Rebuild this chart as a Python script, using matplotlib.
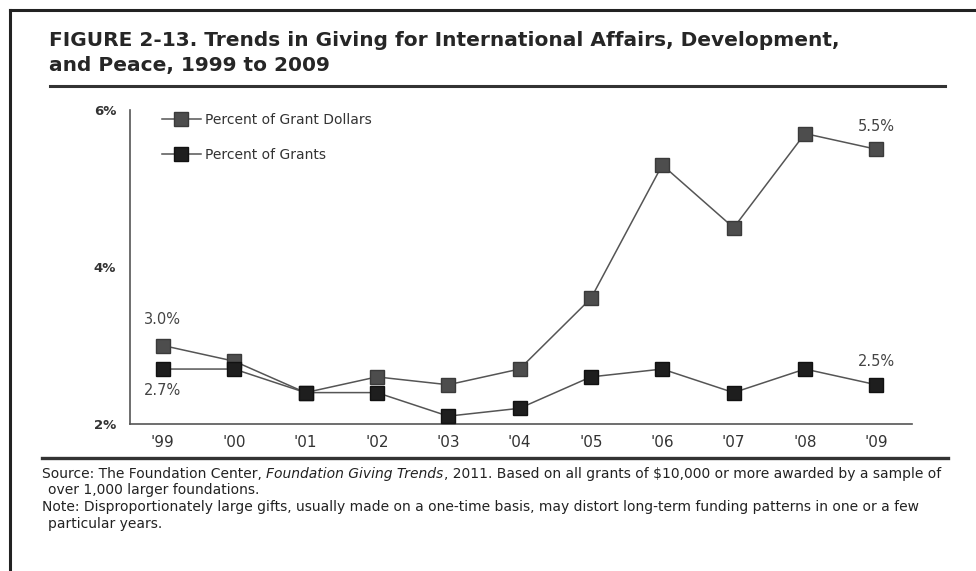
import matplotlib.pyplot as plt
from matplotlib.lines import Line2D

# Data
years = [1999, 2000, 2001, 2002, 2003, 2004, 2005, 2006, 2007, 2008, 2009]
year_labels = ["'99", "'00", "'01", "'02", "'03", "'04", "'05", "'06", "'07", "'08", "'09"]
grant_dollars = [3.0, 2.8, 2.4, 2.6, 2.5, 2.7, 3.6, 5.3, 4.5, 5.7, 5.5]
grants = [2.7, 2.7, 2.4, 2.4, 2.1, 2.2, 2.6, 2.7, 2.4, 2.7, 2.5]
y_ticks = [2, 4, 6]

font = ['DejaVu Sans']

fig = plt.figure(figsize=(9.76, 5.71), dpi=100)
W, H = 976, 571

def fx(px):
    return px / W

def fy(py):
    return 1 - py / H

# outer box (scanned page frame)
fig.add_artist(Line2D([fx(10), fx(10)], [fy(10), 0], color='#222', lw=2.2))
fig.add_artist(Line2D([fx(10), 1], [fy(10), fy(10)], color='#222', lw=2.2))

# title
fig.text(fx(49), fy(41), "FIGURE 2-13. Trends in Giving for International Affairs, Development,",
         fontsize=14.5, fontweight='bold', family=font, color='#262626', va='center')
fig.text(fx(49), fy(65), "and Peace, 1999 to 2009",
         fontsize=14.5, fontweight='bold', family=font, color='#262626', va='center')
fig.add_artist(Line2D([fx(50), fx(945)], [fy(86), fy(86)], color='#333', lw=2.2))

# plot area
ax = fig.add_axes([fx(130), fy(424), fx(912) - fx(130), fy(110) - fy(424)])
ax.plot(years, grant_dollars, color='#555', lw=1.1, marker='s', markersize=10,
        markerfacecolor='#4d4d4d', markeredgecolor='#3a3a3a', label='Percent of Grant Dollars', zorder=3)
ax.plot(years, grants, color='#555', lw=1.1, marker='s', markersize=10,
        markerfacecolor='#1e1e1e', markeredgecolor='#111', label='Percent of Grants', zorder=4)

ax.set_xlim(1998.54, 2009.5)
ax.set_ylim(2, 6)
ax.set_xticks(years)
ax.set_xticklabels(year_labels, family=font, fontsize=11, color='#333')
ax.set_yticks(y_ticks)
ax.set_yticklabels([f'{v}%' for v in y_ticks], family=font, fontsize=9.5, color='#333', fontweight='bold')
ax.tick_params(length=0, pad=8)
ax.tick_params(axis='y', pad=10)
for s in ['top', 'right']:
    ax.spines[s].set_visible(False)
for s in ['left', 'bottom']:
    ax.spines[s].set_color('#555')
    ax.spines[s].set_linewidth(1.2)

# value labels on first and last points
ax.annotate(f'{grant_dollars[0]:.1f}%', (years[0], grant_dollars[0]), xytext=(0, 13),
            textcoords='offset points', ha='center', va='bottom', fontsize=10.5, color='#444', family=font)
ax.annotate(f'{grants[0]:.1f}%', (years[0], grants[0]), xytext=(0, -10),
            textcoords='offset points', ha='center', va='top', fontsize=10.5, color='#444', family=font)
ax.annotate(f'{grant_dollars[-1]:.1f}%', (years[-1], grant_dollars[-1]), xytext=(0, 11),
            textcoords='offset points', ha='center', va='bottom', fontsize=10.5, color='#444', family=font)
ax.annotate(f'{grants[-1]:.1f}%', (years[-1], grants[-1]), xytext=(0, 11),
            textcoords='offset points', ha='center', va='bottom', fontsize=10.5, color='#444', family=font)

leg = ax.legend(loc='upper left', bbox_to_anchor=(0.025, 1.03), frameon=False,
                prop={'family': font, 'size': 10}, handlelength=2.8, labelspacing=1.5,
                handletextpad=0.3)
for t in leg.get_texts():
    t.set_color('#333')

# footnotes
fig.add_artist(Line2D([fx(42), fx(948)], [fy(458), fy(458)], color='#333', lw=2.4))
fs = 10
renderer = fig.canvas.get_renderer()
x0 = fx(42)
parts = [("Source: The Foundation Center, ", 'normal'),
         ("Foundation Giving Trends", 'italic'),
         (", 2011. Based on all grants of $10,000 or more awarded by a sample of", 'normal')]
x = x0
for txt, style in parts:
    t = fig.text(x, fy(474), txt, fontsize=fs, style=style, family=font, color='#222', va='center')
    bb = t.get_window_extent(renderer=renderer)
    x += bb.width / W
fig.text(fx(48), fy(490), "over 1,000 larger foundations.", fontsize=fs, family=font, color='#222', va='center')
fig.text(x0, fy(507), "Note: Disproportionately large gifts, usually made on a one-time basis, may distort long-term funding patterns in one or a few",
         fontsize=fs, family=font, color='#222', va='center')
fig.text(fx(48), fy(524), "particular years.", fontsize=fs, family=font, color='#222', va='center')

fig.savefig('out.png', dpi=100)
